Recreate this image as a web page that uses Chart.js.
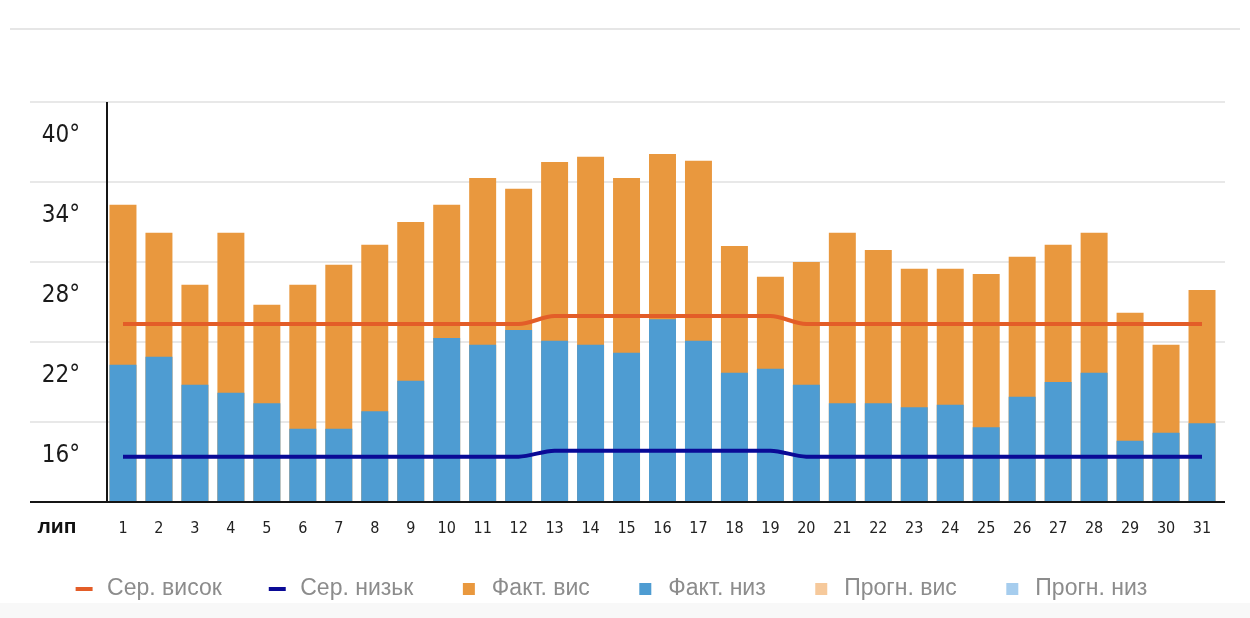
<!DOCTYPE html>
<html>
<head>
<meta charset="utf-8">
<script src="https://cdn.jsdelivr.net/npm/chart.js@4.4.1/dist/chart.umd.min.js"></script>
<style>
  html, body { margin: 0; padding: 0; background: #fff; }
  #wrap { position: relative; width: 1250px; height: 618px; overflow: hidden; }
  #topline { position: absolute; left: 10px; right: 10px; top: 28px; height: 2px; background: #e6e6e6; }
  #bottomband { position: absolute; left: 0; right: 0; top: 603px; bottom: 0; background: #f8f8f8; }
  #chart { position: absolute; left: 0; top: 0; }
</style>
</head>
<body>
<div id="wrap">
  <div id="topline"></div>
  <div id="bottomband"></div>
  <canvas id="chart" width="1250" height="618"></canvas>
</div>
<script>
// days of the month (липень)
const days = ['1','2','3','4','5','6','7','8','9','10','11','12','13','14','15','16',
  '17','18','19','20','21','22','23','24','25','26','27','28','29','30','31'];

const actualHigh = [34.8, 32.7, 28.8, 32.7, 27.3, 28.8, 30.3, 31.8, 33.5, 34.8, 36.8,
  36.0, 38.0, 38.4, 36.8, 38.6, 38.1, 31.7, 29.4, 30.5, 32.7, 31.4, 30.0, 30.0, 29.6,
  30.9, 31.8, 32.7, 26.7, 24.3, 28.4];
const actualLow = [22.8, 23.4, 21.3, 20.7, 19.9, 18.0, 18.0, 19.3, 21.6, 24.8, 24.3,
  25.4, 24.6, 24.3, 23.7, 26.2, 24.6, 22.2, 22.5, 21.3, 19.9, 19.9, 19.6, 19.8, 18.1,
  20.4, 21.5, 22.2, 17.1, 17.7, 18.4];
const avgHigh = [25.85, 25.85, 25.85, 25.85, 25.85, 25.85, 25.85, 25.85, 25.85, 25.85,
  25.85, 25.85, 26.45, 26.45, 26.45, 26.45, 26.45, 26.45, 26.45, 25.85, 25.85, 25.85,
  25.85, 25.85, 25.85, 25.85, 25.85, 25.85, 25.85, 25.85, 25.85];
const avgLow = [15.9, 15.9, 15.9, 15.9, 15.9, 15.9, 15.9, 15.9, 15.9, 15.9, 15.9, 15.9,
  16.35, 16.35, 16.35, 16.35, 16.35, 16.35, 16.35, 15.9, 15.9, 15.9, 15.9, 15.9, 15.9,
  15.9, 15.9, 15.9, 15.9, 15.9, 15.9];
// no forecast days in this month
const forecastHigh = [];
const forecastLow = [];

const yLabels = [16, 22, 28, 34, 40];
const monthLabel = 'лип';

const narrow = '"Liberation Sans Narrow", "DejaVu Sans Condensed", "Liberation Sans", sans-serif';

// grid lines run past the axis, to the left of the labels
const gridPlugin = {
  id: 'gridLines',
  beforeDatasetsDraw(chart) {
    const ctx = chart.ctx;
    const y = chart.scales.y;
    const area = chart.chartArea;
    ctx.save();
    ctx.strokeStyle = '#e8e8e8';
    ctx.lineWidth = 2;
    for (let v = y.min + 6; v <= y.max + 0.01; v += 6) {
      const py = Math.round(y.getPixelForValue(v));
      ctx.beginPath();
      ctx.moveTo(30, py);
      ctx.lineTo(area.right + 5, py);
      ctx.stroke();
    }
    ctx.restore();
  },
  afterDatasetsDraw(chart) {
    const ctx = chart.ctx;
    const area = chart.chartArea;
    ctx.save();
    ctx.strokeStyle = '#151515';
    ctx.lineWidth = 2;
    ctx.beginPath();
    ctx.moveTo(30, area.bottom);
    ctx.lineTo(area.right + 5, area.bottom);
    ctx.moveTo(area.left + 2, area.top);
    ctx.lineTo(area.left + 2, area.bottom);
    ctx.stroke();
    // month name in front of the day numbers
    ctx.fillStyle = '#111';
    ctx.font = 'bold 21px "Liberation Sans", Arial, sans-serif';
    ctx.textAlign = 'center';
    ctx.textBaseline = 'middle';
    ctx.fillText(monthLabel, 57, area.bottom + 25);
    ctx.restore();
  }
};

new Chart(document.getElementById('chart'), {
  type: 'bar',
  data: {
    labels: days,
    datasets: [
      {
        type: 'line', label: 'Сер. висок', data: avgHigh, order: 0,
        borderColor: '#e35d28', borderWidth: 4, pointRadius: 0, pointStyle: 'line',
        cubicInterpolationMode: 'monotone', fill: false
      },
      {
        type: 'line', label: 'Сер. низьк', data: avgLow, order: 0,
        borderColor: '#0a0a96', borderWidth: 4, pointRadius: 0, pointStyle: 'line',
        cubicInterpolationMode: 'monotone', fill: false
      },
      { label: 'Факт. вис', data: actualHigh, order: 2, backgroundColor: '#e9983e', pointStyle: 'rect' },
      { label: 'Факт. низ', data: actualLow, order: 1, backgroundColor: '#4e9cd2', pointStyle: 'rect' },
      { label: 'Прогн. вис', data: forecastHigh, order: 3, backgroundColor: '#f6c99b', pointStyle: 'rect' },
      { label: 'Прогн. низ', data: forecastLow, order: 3, backgroundColor: '#a6cdee', pointStyle: 'rect' }
    ]
  },
  options: {
    responsive: false,
    animation: false,
    devicePixelRatio: 1,
    layout: { padding: { top: 102, right: 30, left: 0, bottom: 7.5 } },
    datasets: {
      bar: { categoryPercentage: 1, barPercentage: 0.75 }
    },
    plugins: {
      tooltip: { enabled: false },
      legend: {
        position: 'bottom',
        labels: {
          usePointStyle: true,
          boxHeight: 12,
          padding: 44,
          color: '#8c8c8c',
          font: { family: '"Liberation Sans", Arial, sans-serif', size: 23 },
          sort: (a, b) => a.datasetIndex - b.datasetIndex
        }
      }
    },
    scales: {
      x: {
        stacked: true,
        grid: { display: false },
        border: { display: false },
        ticks: {
          color: '#222', autoSkip: false, maxRotation: 0, padding: 9.5,
          font: { family: narrow, size: 16 }
        },
        afterFit: function(scale) { scale.height = 31.5; }
      },
      y: {
        stacked: false,
        min: 12.5,
        max: 42.5,
        grid: { display: false },
        border: { display: false },
        afterBuildTicks: function(scale) {
          scale.ticks = yLabels.map(v => ({ value: v }));
        },
        ticks: {
          color: '#1a1a1a', padding: 17,
          font: { family: narrow, size: 24 },
          callback: v => v + '°'
        },
        afterFit: function(scale) { scale.width = 105; }
      }
    }
  },
  plugins: [gridPlugin]
});
</script>
</body>
</html>
